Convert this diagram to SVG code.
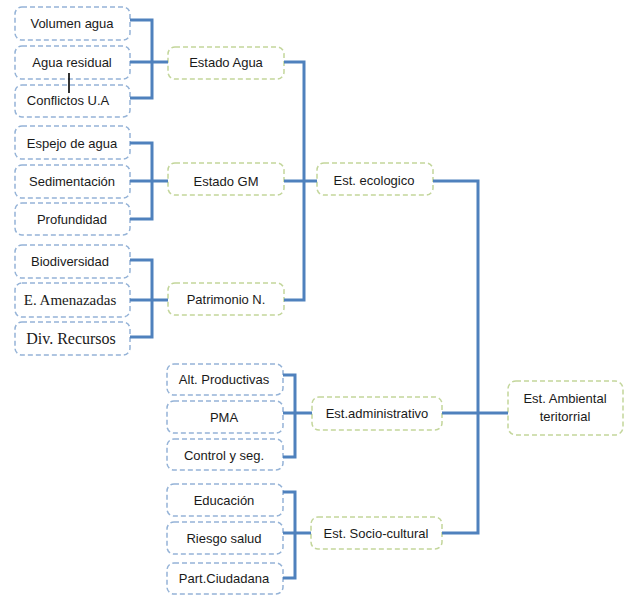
<svg xmlns="http://www.w3.org/2000/svg" width="624" height="595" viewBox="0 0 624 595">
<style>
.b{fill:#fff;stroke:#95B3D7;stroke-width:1.5;stroke-dasharray:5 3}
.g{fill:#fff;stroke:#C3D69B;stroke-width:1.5;stroke-dasharray:5 3}
.t{font-family:"Liberation Sans",Arial,sans-serif;font-size:13px;fill:#1a1a1a;text-anchor:middle}
.s{font-family:"Liberation Serif","Times New Roman",serif;fill:#1a1a1a;text-anchor:middle}
.c{fill:none;stroke:#4F81BD;stroke-width:3}
</style>
<rect width="624" height="595" fill="#fff"/>
<g id="n1"><rect class="b" x="15" y="7" width="115" height="33" rx="7"/><text class="t" x="72" y="28">Volumen agua</text></g>
<g id="n2"><rect class="b" x="15" y="46" width="115" height="33" rx="7"/><text class="t" x="72" y="67">Agua residual</text></g>
<g id="n3"><rect class="b" x="15" y="85" width="115" height="32" rx="7"/><text class="t" x="68" y="105">Conflictos U.A</text></g>
<g id="n4"><rect class="b" x="15" y="126" width="115" height="33" rx="7"/><text class="t" x="72" y="148">Espejo de agua</text></g>
<g id="n5"><rect class="b" x="15" y="165" width="115" height="33" rx="7"/><text class="t" x="72" y="186">Sedimentación</text></g>
<g id="n6"><rect class="b" x="15" y="203" width="115" height="32" rx="7"/><text class="t" x="72" y="224">Profundidad</text></g>
<g id="n7"><rect class="b" x="15" y="245" width="115" height="33" rx="7"/><text class="t" x="70" y="266">Biodiversidad</text></g>
<g id="n8"><rect class="b" x="15" y="283" width="115" height="34" rx="7"/><text class="s" x="70" y="305" font-size="15">E. Amenazadas</text></g>
<g id="n9"><rect class="b" x="15" y="322" width="115" height="33" rx="7"/><text class="s" x="71" y="344" font-size="16">Div. Recursos</text></g>
<g id="n10"><rect class="g" x="168" y="47" width="116" height="32" rx="7"/><text class="t" x="226" y="67">Estado Agua</text></g>
<g id="n11"><rect class="g" x="168" y="163" width="116" height="32" rx="7"/><text class="t" x="226" y="186">Estado GM</text></g>
<g id="n12"><rect class="g" x="168" y="283" width="116" height="32" rx="7"/><text class="t" x="226" y="304">Patrimonio N.</text></g>
<g id="n13"><rect class="g" x="317" y="163" width="116" height="32" rx="7"/><text class="t" x="374" y="185">Est. ecologico</text></g>
<g id="n14"><rect class="b" x="167" y="364" width="116" height="31" rx="7"/><text class="t" x="224" y="384">Alt. Productivas</text></g>
<g id="n15"><rect class="b" x="167" y="401" width="116" height="32" rx="7"/><text class="t" x="224" y="422">PMA</text></g>
<g id="n16"><rect class="b" x="167" y="439" width="116" height="31" rx="7"/><text class="t" x="224" y="460">Control y seg.</text></g>
<g id="n17"><rect class="g" x="312" y="397" width="130" height="33" rx="7"/><text class="t" x="377" y="418">Est.administrativo</text></g>
<g id="n18"><rect class="b" x="167" y="484" width="116" height="32" rx="7"/><text class="t" x="224" y="505">Educación</text></g>
<g id="n19"><rect class="b" x="167" y="522" width="116" height="32" rx="7"/><text class="t" x="224" y="543">Riesgo salud</text></g>
<g id="n20"><rect class="b" x="167" y="563" width="116" height="31" rx="7"/><text class="t" x="224" y="583">Part.Ciudadana</text></g>
<g id="n21"><rect class="g" x="311" y="517" width="131" height="32" rx="7"/><text class="t" x="376" y="538">Est. Socio-cultural</text></g>
<g id="n22"><rect class="g" x="508" y="381" width="115" height="54" rx="8"/><text class="t" x="565" y="403">Est. Ambiental</text><text class="t" x="565" y="421">teritorrial</text></g>
<g id="connectors">
<path class="c" d="M130 20H152V98H130M130 62H168"/>
<path class="c" d="M130 143H152V219H130M130 181H168"/>
<path class="c" d="M130 260H152V337H130M130 300H168"/>
<path class="c" d="M284 62H304V300H284M284 181H317"/>
<path class="c" d="M283 375H295V457H283M283 413H312"/>
<path class="c" d="M283 492H295V578H283M283 533H311"/>
<path class="c" d="M433 181H478V533H442M442 413H508"/>
<line x1="69" y1="73" x2="69" y2="93" stroke="#000" stroke-width="1.6"/>
</g>
</svg>
